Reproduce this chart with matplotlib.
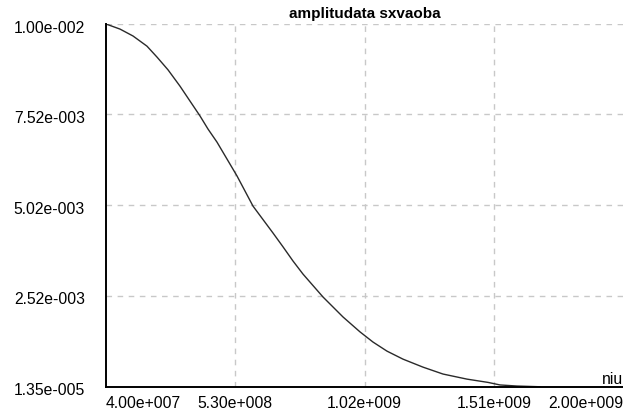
import matplotlib
matplotlib.use("Agg")
import matplotlib.pyplot as plt
from matplotlib.transforms import offset_copy

plt.rcParams['font.family'] = ['Liberation Sans', 'DejaVu Sans']

# values
niu = [4.00e7, 9.31e7, 1.424e8, 1.954e8, 2.333e8, 2.750e8, 3.205e8, 3.584e8,
       3.964e8, 4.267e8, 4.608e8, 5.366e8, 5.973e8, 6.731e8, 7.110e8,
       7.489e8, 7.868e8, 8.626e8, 9.385e8, 1.0029e9, 1.0522e9, 1.1053e9,
       1.1659e9, 1.2417e9, 1.3176e9, 1.4086e9, 1.4882e9, 1.5337e9, 1.5981e9,
       1.6853e9]
amp = [0.01000, 0.00986, 0.00967, 0.00939, 0.00909, 0.00874, 0.00829, 0.00788,
       0.00747, 0.00711, 0.00675, 0.00582, 0.00499, 0.00425, 0.00387,
       0.00348, 0.00312, 0.00249, 0.00194, 0.00153, 0.00125, 0.00100,
       0.00078, 0.00056, 0.00037, 0.00023, 0.00014, 0.00007, 0.00004,
       0.00002]

xticks = [4.00e7, 5.30e8, 1.02e9, 1.51e9, 2.00e9]
xlabels = ['4.00e+007', '5.30e+008', '1.02e+009', '1.51e+009', '2.00e+009']
yticks = [1.35e-5, 2.52e-3, 5.02e-3, 7.52e-3, 1.00e-2]
ylabels = ['1.35e-005', '2.52e-003', '5.02e-003', '7.52e-003', '1.00e-002']

fig = plt.figure(figsize=(6.23, 4.14), dpi=100)
ax = fig.add_axes([106 / 623, 1 - 388 / 414, 517 / 623, 363 / 414])

ax.plot(niu, amp, color='#2a2a2a', lw=1.0, zorder=3)
ax.set_xlim(xticks[0], xticks[-1])
ax.set_ylim(yticks[0], yticks[-1])

for s in ['top', 'right']:
    ax.spines[s].set_visible(False)
for s in ['left', 'bottom']:
    ax.spines[s].set_linewidth(1.4)
    ax.spines[s].set_zorder(4)

ax.set_xticks(xticks)
ax.set_yticks(yticks)
ax.set_xticklabels([])
ax.set_yticklabels([])
ax.tick_params(length=0)

for v in xticks[1:-1]:
    ax.axvline(v, color='#c8c8c8', lw=1, ls=(0, (4, 4)), zorder=1)
for v in yticks[1:]:
    ax.axhline(v, color='#c8c8c8', lw=1, ls=(0, (4, 4)), zorder=1)

fs = 11.3
xtr = offset_copy(ax.get_xaxis_transform(), fig=fig, x=0, y=-8, units='dots')
for i, (v, lab) in enumerate(zip(xticks, xlabels)):
    ha = 'left' if i == 0 else ('right' if i == len(xticks) - 1 else 'center')
    ax.text(v, 0, lab, transform=xtr, ha=ha, va='top', fontsize=fs)

ytr = offset_copy(ax.get_yaxis_transform(), fig=fig, x=-21, y=-3, units='dots')
for v, lab in zip(yticks, ylabels):
    ax.text(0, v, lab, transform=ytr, ha='right', va='center', fontsize=fs)

ax.text(0.5, 1.012, 'amplitudata sxvaoba', transform=ax.transAxes,
        ha='center', va='bottom', fontsize=11, fontweight='bold')
ax.text(1.0, 0.003, 'niu', transform=ax.transAxes, ha='right', va='bottom',
        fontsize=fs)

fig.savefig('out.png', dpi=100)
